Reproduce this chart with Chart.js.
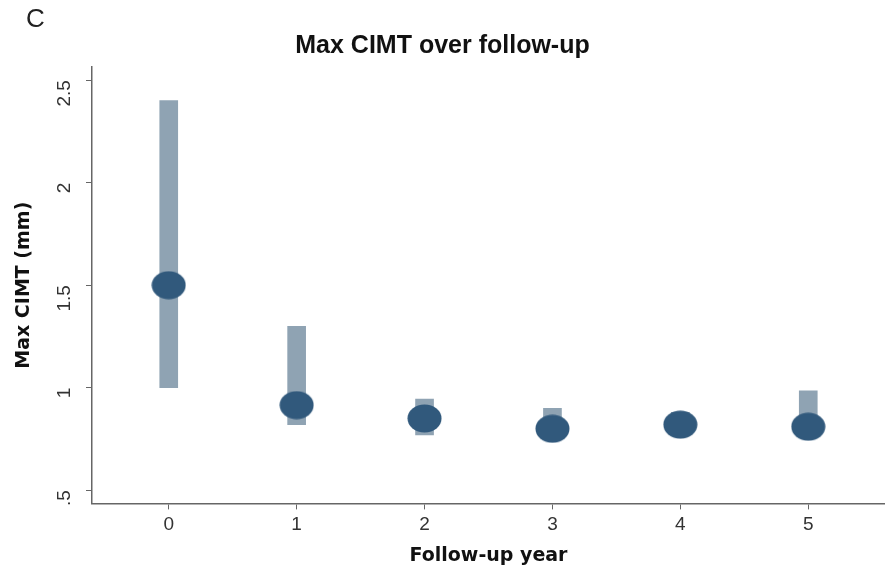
<!DOCTYPE html>
<html>
<head>
<meta charset="utf-8">
<script src="https://cdn.jsdelivr.net/npm/chart.js@4/dist/chart.umd.min.js"></script>
<style>
 body{margin:0;background:#fff;}
 #wrap{position:relative;width:885px;height:577px;}
 #panel{position:absolute;left:26px;top:3px;font:26px "Liberation Sans",Arial,sans-serif;color:#222;}
</style>
</head>
<body>
<div id="wrap">
 <canvas id="cimt" width="885" height="577"></canvas>
 <div id="panel">C</div>
</div>
<script>
const years=[0,1,2,3,4,5];
const meanCimt=[1.50,0.915,0.85,0.80,0.82,0.81];
const rangeLow=[1.00,0.82,0.77,0.75,0.77,0.77];
const rangeHigh=[2.40,1.30,0.945,0.90,0.88,0.985];
const yTicks=[0.5,1,1.5,2,2.5];
const yTickLabels=[".5","1","1.5","2","2.5"];

// ellipse marker
const dot=document.createElement("canvas");
dot.width=35;dot.height=29;
const dc=dot.getContext("2d");
dc.fillStyle="#31597c";
dc.beginPath();dc.ellipse(17.5,14.5,17,14,0,0,Math.PI*2);dc.fill();

const axisFont={family:"'Liberation Sans', Arial, sans-serif",size:19};
const titleFont={family:"'DejaVu Sans', sans-serif",size:19,weight:"bold"};

new Chart(document.getElementById("cimt"),{
 type:"bar",
 data:{
  datasets:[{
   label:"range",
   data:years.map((y,i)=>({x:y,y:[rangeLow[i],rangeHigh[i]]})),
   backgroundColor:"#8fa3b3",
   barThickness:18,
   order:2
  },{
   type:"scatter",
   label:"Max CIMT",
   data:years.map((y,i)=>({x:y,y:meanCimt[i]})),
   pointStyle:dot,
   pointRadius:15,
   order:1
  }]
 },
 options:{
  responsive:false,
  animation:false,
  layout:{autoPadding:false,padding:{left:0,right:0,top:0,bottom:10}},
  plugins:{
   legend:{display:false},
   tooltip:{enabled:false},
   title:{display:true,text:"Max CIMT over follow-up",color:"#111",
    font:{family:"'Liberation Sans', Arial, sans-serif",size:25,weight:"bold"},
    padding:{top:31,bottom:6}}
  },
  scales:{
   x:{type:"linear",min:-0.6,max:5.6,offset:false,
    afterBuildTicks:s=>{s.ticks=years.map(v=>({value:v}));},
    grid:{display:true,offset:false,drawOnChartArea:false,drawTicks:true,tickLength:6,color:"#666"},
    border:{color:"#666",width:1.5},
    ticks:{color:"#333",font:axisFont,padding:4},
    title:{display:true,text:"Follow-up year",color:"#111",font:titleFont,padding:{top:4,bottom:0}}
   },
   y:{type:"linear",min:0.436,max:2.564,
    afterBuildTicks:s=>{s.ticks=yTicks.map(v=>({value:v}));},
    afterFit:s=>{s.width=92;},
    grid:{display:true,drawOnChartArea:false,drawTicks:true,tickLength:6,color:"#666"},
    border:{color:"#666",width:1.5},
    ticks:{color:"#333",font:axisFont,padding:21,minRotation:90,maxRotation:90,
     callback:(v)=>yTickLabels[yTicks.indexOf(v)]},
    title:{display:true,text:"Max CIMT (mm)",color:"#111",font:titleFont,padding:{top:13,bottom:0}}
   }
  }
 }
});
</script>
</body>
</html>
